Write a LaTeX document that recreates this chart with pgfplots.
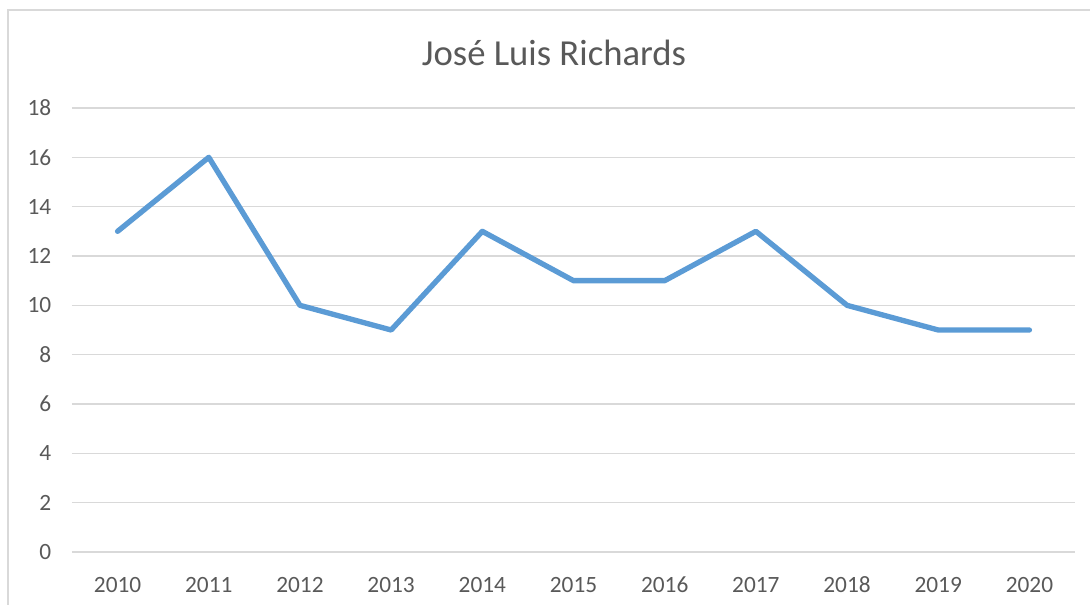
\documentclass[border=0pt]{standalone}
\usepackage{fontspec}
\setmainfont{Carlito}
\usepackage{pgfplots}
\pgfplotsset{compat=1.18}
\definecolor{linebl}{HTML}{5B9BD5}
\definecolor{gridc}{HTML}{D9D9D9}
\definecolor{txt}{HTML}{595959}
\begin{document}
\begin{tikzpicture}[x=0.75pt,y=0.75pt]
\path[use as bounding box] (0,0) rectangle (1091,-605);
\draw[gridc,line width=1.5pt] (8,-605) -- (8,-10) -- (1090,-10);
\node[text=txt,font=\fontsize{27.5}{32}\selectfont] at (554,-53) {José Luis Richards};
\begin{axis}[
  at={(72*0.75pt,-552*0.75pt)}, anchor=south west,
  scale only axis, width=752.25pt, height=333pt,
  xmin=-0.5, xmax=10.5, ymin=0, ymax=18,
  xtick={0,...,10},
  xticklabels={2010,2011,2012,2013,2014,2015,2016,2017,2018,2019,2020},
  ytick={0,2,...,18},
  ymajorgrids, grid style={gridc,line width=1.1pt},
  axis line style={draw=none}, major tick length=0pt,
  tick label style={text=txt,font=\fontsize{17.5}{20}\selectfont},
  /pgf/number format/assume math mode=true,
  yticklabel style={xshift=-12pt},
  xticklabel style={anchor=base,yshift=-30pt},
  clip=false,
]
\addplot[linebl,line width=4pt,line join=round,line cap=round] coordinates {
(0,13) (1,16) (2,10) (3,9) (4,13) (5,11) (6,11) (7,13) (8,10) (9,9) (10,9)};
\end{axis}
\end{tikzpicture}
\end{document}
